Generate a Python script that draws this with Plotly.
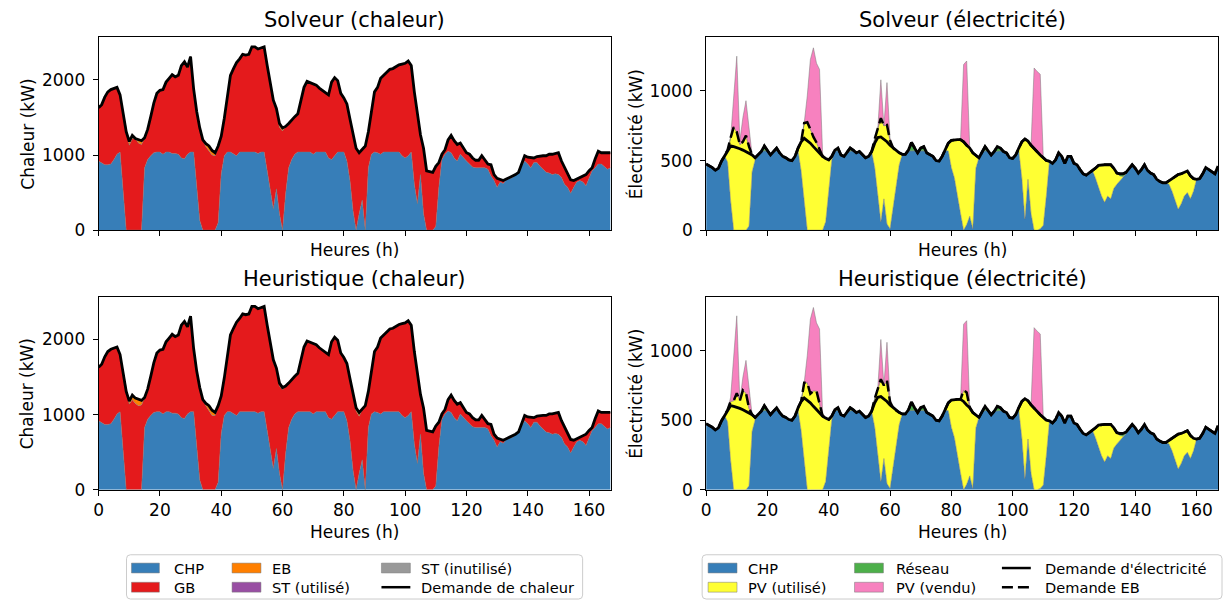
import plotly.graph_objects as go

W, H = 1225, 610
HOURS = list(range(168))

# ---------------- heat balance (kW) ----------------
HEAT_DEMAND = [
    1630, 1670, 1770, 1840, 1870, 1890, 1900, 1800, 1580, 1310,
    1180, 1260, 1220, 1200, 1190, 1230, 1340, 1510, 1690, 1820,
    1860, 1870, 1970, 2020, 2070, 2040, 2060, 2190, 2240, 2170,
    2310, 1880, 1580, 1360, 1200, 1150, 1120, 1060, 1030, 1120,
    1250, 1490, 1790, 2060, 2150, 2230, 2280, 2340, 2330, 2340,
    2440, 2440, 2410, 2430, 2440, 2190, 1930, 1730, 1620, 1420,
    1360, 1380, 1420, 1470, 1510, 1550, 1750, 1900, 1980, 1960,
    1950, 1930, 1890, 1860, 1820, 1800, 1970, 2030, 1990, 1820,
    1760, 1680, 1480, 1270, 1090, 1030, 1070, 1120, 1310, 1550,
    1840, 1900, 2020, 2060, 2100, 2140, 2150, 2180, 2200, 2210,
    2220, 2250, 2190, 1840, 1530, 1270, 1090, 790, 780, 770,
    850, 900, 1010, 1070, 1200, 1260, 1190, 1140, 1160, 1090,
    1030, 1010, 960, 930, 930, 990, 930, 880, 870, 740,
    690, 680, 660, 680, 700, 710, 740, 770, 880, 990,
    970, 960, 960, 980, 990, 990, 990, 1010, 1010, 1020,
    1030, 920, 830, 740, 670, 660, 680, 700, 710, 740,
    790, 830, 950, 1050, 1030, 1030, 1030, 1030,
]

CHP_HEAT = [
    920, 900, 870, 870, 880, 940, 1010, 1040, 530, 0,
    0, 0, 0, 0, 0, 830, 940, 990, 1030, 1040,
    1040, 1010, 1040, 1040, 1020, 1020, 1010, 960, 950, 1010,
    1040, 1040, 570, 130, 0, 0, 0, 0, 0, 100,
    750, 990, 1040, 1040, 1010, 990, 1040, 1040, 1040, 1040,
    1040, 1040, 1020, 1040, 1040, 790, 525, 285, 550, 220,
    0, 480, 830, 940, 1010, 1040, 1040, 1040, 1040, 1040,
    1010, 1040, 1040, 1040, 1040, 960, 940, 990, 1040, 1040,
    1040, 920, 660, 260, 0, 220, 400, 0, 830, 1010,
    1040, 1030, 1010, 1040, 1040, 1040, 1040, 1040, 1040, 990,
    960, 990, 1040, 610, 350, 740, 220, 0, 0, 0,
    50, 570, 940, 1010, 1050, 1030, 960, 920, 1010, 960,
    920, 880, 840, 830, 830, 830, 830, 810, 720, 660,
    570, 640, 620, 670, 690, 700, 735, 760, 850, 920,
    880, 830, 900, 900, 850, 810, 770, 760, 740, 750,
    740, 700, 610, 570, 490, 570, 640, 660, 640, 590,
    700, 790, 830, 880, 880, 850, 810, 830,
]

GB_SOLVER = [
    710, 770, 900, 970, 990, 950, 890, 760, 1050, 1310,
    1130, 1220, 1220, 1160, 1140, 400, 400, 520, 660, 780,
    820, 860, 930, 980, 1050, 1020, 1050, 1230, 1290, 1160,
    1270, 840, 1010, 1230, 1200, 1110, 1060, 1000, 990, 1020,
    500, 500, 750, 1020, 1140, 1240, 1240, 1300, 1290, 1300,
    1400, 1400, 1390, 1390, 1400, 1400, 1405, 1405, 1070, 1150,
    1320, 900, 590, 530, 500, 510, 710, 860, 940, 920,
    940, 890, 850, 820, 780, 840, 1030, 1040, 950, 780,
    720, 760, 820, 1010, 1090, 810, 670, 1120, 480, 540,
    800, 870, 1010, 1020, 1060, 1100, 1110, 1140, 1160, 1220,
    1260, 1260, 1150, 1230, 1180, 530, 870, 790, 780, 770,
    800, 330, 70, 60, 150, 230, 230, 220, 150, 130,
    110, 130, 120, 100, 100, 160, 100, 70, 150, 80,
    120, 40, 40, 10, 10, 10, 5, 10, 30, 70,
    90, 130, 60, 80, 140, 180, 220, 250, 270, 270,
    290, 220, 220, 170, 180, 90, 40, 40, 70, 150,
    90, 40, 120, 170, 150, 180, 220, 200,
]
# hours where the heuristic dispatch of the gas boiler differs
GB_HEUR_CHANGES = {10: 1140, 11: 1200, 12: 1150, 13: 1120, 14: 1130, 35: 1120,
                   37: 990, 59: 1160, 60: 1330, 84: 1050, 85: 760}

# electric boiler heat output, non-zero hours only
EB_HEAT_SOLVER = {10: 50, 11: 40, 13: 40, 14: 50, 35: 40, 36: 60, 37: 60,
                  38: 40, 57: 40, 59: 50, 60: 40}
EB_HEAT_HEUR = {10: 40, 11: 60, 12: 70, 13: 80, 14: 60, 35: 30, 36: 60, 37: 70,
                38: 40, 57: 40, 59: 40, 60: 30, 84: 40, 85: 50}

# solar thermal: nothing produced over this week
ST_USED = {}
ST_UNUSED = {}

# ---------------- electricity balance (kW) ----------------
ELEC_DEMAND = [
    475, 465, 450, 430, 445, 495, 535, 575, 605, 600,
    595, 585, 575, 565, 555, 540, 520, 540, 565, 605,
    575, 540, 565, 590, 555, 530, 520, 505, 500, 530,
    590, 635, 660, 645, 625, 600, 575, 555, 530, 515,
    505, 530, 575, 590, 540, 530, 565, 590, 575, 555,
    565, 540, 520, 530, 565, 625, 665, 670, 655, 635,
    610, 590, 570, 555, 545, 545, 575, 630, 590, 555,
    590, 600, 555, 540, 530, 500, 495, 530, 575, 625,
    645, 650, 650, 650, 635, 610, 590, 555, 535, 520,
    560, 600, 570, 540, 565, 600, 590, 565, 555, 520,
    515, 540, 590, 635, 655, 640, 610, 585, 560, 540,
    520, 500, 495, 480, 505, 555, 530, 480, 530, 530,
    480, 470, 435, 405, 395, 410, 430, 445, 465, 470,
    470, 470, 470, 445, 410, 405, 405, 415, 445, 470,
    445, 410, 435, 470, 430, 410, 400, 365, 350, 340,
    340, 355, 365, 380, 400, 405, 415, 425, 390, 370,
    365, 370, 405, 450, 435, 420, 405, 460,
]

CHP_ELEC = [
    475, 465, 450, 430, 445, 495, 535, 490, 210, 0,
    0, 0, 0, 0, 30, 420, 505, 540, 565, 570,
    570, 540, 565, 570, 555, 530, 520, 505, 500, 530,
    570, 425, 190, 0, 0, 0, 0, 0, 0, 60,
    310, 505, 570, 570, 540, 530, 565, 570, 570, 555,
    565, 540, 520, 530, 565, 450, 260, 60, 225, 45,
    10, 170, 330, 470, 545, 545, 570, 570, 570, 555,
    570, 570, 555, 540, 530, 500, 495, 530, 570, 570,
    450, 375, 235, 120, 0, 40, 100, 10, 445, 520,
    560, 570, 570, 540, 565, 570, 570, 565, 555, 520,
    515, 540, 570, 375, 80, 365, 120, 0, 0, 10,
    35, 250, 495, 480, 505, 555, 530, 480, 530, 530,
    480, 470, 435, 405, 395, 410, 430, 375, 305, 245,
    200, 245, 225, 300, 330, 355, 385, 405, 445, 470,
    445, 410, 435, 470, 430, 410, 400, 365, 350, 340,
    340, 330, 280, 210, 150, 190, 245, 270, 225, 280,
    365, 370, 405, 450, 435, 420, 405, 460,
]

GRID = {19: 35, 20: 5, 23: 20, 30: 20, 42: 5, 43: 20, 47: 20, 48: 5, 66: 5,
        67: 60, 68: 20, 70: 20, 71: 30, 78: 5, 91: 30, 95: 30, 96: 20,
        135: 15, 136: 20, 137: 10}

PV_USED_SOLVER = {
    7: 85, 8: 455, 9: 740, 10: 705, 11: 615, 12: 635, 13: 680, 14: 570, 15: 120, 16: 15,
    31: 210, 32: 580, 33: 775, 34: 725, 35: 670, 36: 630, 37: 575, 38: 530, 39: 455,
    40: 195, 41: 25,
    55: 205, 56: 470, 57: 745, 58: 525, 59: 710, 60: 635, 61: 420, 62: 240, 63: 85,
    79: 55, 80: 195, 81: 275, 82: 415, 83: 530, 84: 635, 85: 570, 86: 490, 87: 545, 88: 90,
    102: 20, 103: 260, 104: 575, 105: 275, 106: 490, 107: 585, 108: 560, 109: 530,
    110: 485, 111: 250,
    127: 70, 128: 160, 129: 225, 130: 270, 131: 225, 132: 245, 133: 145, 134: 80, 135: 35,
    151: 25, 152: 85, 153: 170, 154: 250, 155: 215, 156: 170, 157: 155, 158: 165, 159: 90,
}
PV_SOLD_SOLVER = {9: 190, 10: 545, 11: 25, 12: 175, 13: 250, 14: 110,
                  33: 190, 34: 500, 35: 640, 36: 570, 37: 580, 38: 20,
                  57: 275, 59: 305, 60: 15, 84: 555, 85: 605,
                  107: 580, 108: 580, 109: 580}
EB_ELEC_SOLVER = {8: 60, 9: 140, 10: 110, 11: 30, 12: 60, 13: 115, 14: 45,
                  32: 110, 33: 130, 34: 100, 35: 70, 36: 55, 37: 20,
                  55: 30, 56: 65, 57: 135, 58: 95, 59: 120, 60: 35}

# heuristic: different electric boiler schedule, hence a different PV split
EB_ELEC_HEUR = {8: 30, 9: 40, 10: 100, 11: 55, 12: 140, 13: 130, 14: 30,
                32: 110, 33: 125, 34: 65, 35: 110, 36: 135, 37: 65,
                55: 30, 56: 65, 57: 125, 58: 95, 59: 150, 60: 20, 84: 80, 85: 90}
PV_USED_HEUR_CHANGES = {8: 425, 9: 640, 10: 695, 11: 640, 12: 715, 13: 695, 14: 555,
                        33: 770, 34: 690, 35: 710, 36: 710, 37: 620,
                        57: 735, 59: 740, 60: 620, 84: 715, 85: 660}
PV_SOLD_HEUR_CHANGES = {8: 30, 9: 290, 10: 555, 11: 0, 12: 95, 13: 235, 14: 125,
                        33: 195, 34: 535, 35: 600, 36: 490, 37: 535,
                        57: 285, 59: 275, 60: 30, 84: 475, 85: 515}

X_TICKS = [0, 20, 40, 60, 80, 100, 120, 140, 160]
HEAT_TICKS = [0, 1000, 2000]
ELEC_TICKS = [0, 500, 1000]


def full(sparse):
    """Expand an {hour: value} mapping into a full hourly series."""
    return [sparse.get(h, 0) for h in HOURS]


def changed(base, changes):
    out = list(base)
    for h, v in changes.items():
        out[h] = v
    return out


COL = {
    "CHP": "#377eb8", "GB": "#e41a1c", "EB": "#ff7f00", "STU": "#984ea3",
    "STN": "#999999", "PVU": "#ffff33", "GRID": "#4daf4a", "PVS": "#f781bf",
}
FONT = "DejaVu Sans"
EDGE = "rgba(120,120,120,0.85)"
DASH = "11px,5px"

fig = go.Figure()


def area(y, color, group, ax):
    fig.add_trace(go.Scatter(
        x=HOURS, y=y, mode="lines", stackgroup=group, fillcolor=color,
        line=dict(color=EDGE, width=0.6), xaxis="x" + ax, yaxis="y" + ax,
        showlegend=False, hoverinfo="skip"))


def curve(y, ax, dash=None, width=2.8):
    fig.add_trace(go.Scatter(
        x=HOURS, y=y, mode="lines", xaxis="x" + ax, yaxis="y" + ax,
        line=dict(color="black", width=width, dash=dash),
        showlegend=False, hoverinfo="skip"))


def heat_panel(ax, gb, eb):
    g = "heat" + ax
    area(CHP_HEAT, COL["CHP"], g, ax)
    area(gb, COL["GB"], g, ax)
    area(full(eb), COL["EB"], g, ax)
    area(full(ST_USED), COL["STU"], g, ax)
    area(full(ST_UNUSED), COL["STN"], g, ax)
    curve(HEAT_DEMAND, ax)


def elec_panel(ax, pv_used, pv_sold, eb):
    g = "elec" + ax
    area(CHP_ELEC, COL["CHP"], g, ax)
    area(pv_used, COL["PVU"], g, ax)
    area(full(GRID), COL["GRID"], g, ax)
    area(pv_sold, COL["PVS"], g, ax)
    eb_full = full(eb)
    curve([d + e for d, e in zip(ELEC_DEMAND, eb_full)], ax, dash=DASH, width=2.5)
    curve(ELEC_DEMAND, ax)


heat_panel("", GB_SOLVER, EB_HEAT_SOLVER)
elec_panel("2", full(PV_USED_SOLVER), full(PV_SOLD_SOLVER), EB_ELEC_SOLVER)
heat_panel("3", changed(GB_SOLVER, GB_HEUR_CHANGES), EB_HEAT_HEUR)
elec_panel("4", changed(full(PV_USED_SOLVER), PV_USED_HEUR_CHANGES),
           changed(full(PV_SOLD_SOLVER), PV_SOLD_HEUR_CHANGES), EB_ELEC_HEUR)


def px(x):
    return x / W


def py(y):
    return 1 - y / H


LX = [px(94), px(608)]
RX = [px(704), px(1218)]
TY = [py(234), py(38)]
BY = [py(498), py(302)]

axis_common = dict(
    showline=True, mirror=True, linecolor="black", linewidth=1,
    ticks="outside", ticklen=5, tickwidth=1, tickcolor="black",
    showgrid=False, zeroline=False,
    tickfont=dict(family=FONT, size=17, color="black"),
)


def xaxis(domain, anchor, labels):
    return dict(axis_common, domain=domain, anchor=anchor, range=[0, 167],
                tickvals=X_TICKS, showticklabels=labels)


def yaxis(domain, anchor, top, ticks):
    return dict(axis_common, domain=domain, anchor=anchor, range=[0, top],
                tickvals=ticks, ticklabelstandoff=4)


fig.update_layout(
    width=W, height=H, margin=dict(l=0, r=0, t=0, b=0),
    paper_bgcolor="white", plot_bgcolor="white", showlegend=False,
    xaxis=xaxis(LX, "y", False), yaxis=yaxis(TY, "x", 2565, HEAT_TICKS),
    xaxis2=xaxis(RX, "y2", False), yaxis2=yaxis(TY, "x2", 1385, ELEC_TICKS),
    xaxis3=xaxis(LX, "y3", True), yaxis3=yaxis(BY, "x3", 2565, HEAT_TICKS),
    xaxis4=xaxis(RX, "y4", True), yaxis4=yaxis(BY, "x4", 1385, ELEC_TICKS),
)

annotations = []


def text(x, y, s, size, anchor="center", angle=0):
    annotations.append(dict(
        x=px(x), y=py(y), xref="paper", yref="paper", text=s, showarrow=False,
        xanchor=anchor, yanchor="middle", textangle=angle,
        font=dict(family=FONT, size=size, color="black")))


# panel titles
text(351, 20, "Solveur (chaleur)", 21)
text(961, 20, "Solveur (électricité)", 21)
text(351, 284, "Heuristique (chaleur)", 21)
text(961, 284, "Heuristique (électricité)", 21)
# axis labels
for yc in (136, 400):
    text(23, yc, "Chaleur (kW)", 17, angle=-90)
    text(633, yc, "Électricité (kW)", 17, angle=-90)
for yc in (254, 541):
    text(351, yc, "Heures (h)", 17)
    text(961, yc, "Heures (h)", 17)

shapes = []


def rounded_box(x0, y0, x1, y1, r=4):
    rx, ry = r / W, r / H
    a, b, c, d = px(x0), py(y0), px(x1), py(y1)
    path = (f"M {a + rx},{b} L {c - rx},{b} Q {c},{b} {c},{b - ry} "
            f"L {c},{d + ry} Q {c},{d} {c - rx},{d} L {a + rx},{d} "
            f"Q {a},{d} {a},{d + ry} L {a},{b - ry} Q {a},{b} {a + rx},{b} Z")
    shapes.append(dict(type="path", path=path, xref="paper", yref="paper",
                       line=dict(color="#cccccc", width=1),
                       fillcolor="rgba(255,255,255,0.8)"))


def patch(x0, x1, yc, color):
    shapes.append(dict(type="rect", xref="paper", yref="paper",
                       x0=px(x0), x1=px(x1), y0=py(yc + 5), y1=py(yc - 5),
                       fillcolor=color, line=dict(color=EDGE, width=0.6)))


def line_key(x0, x1, yc, dash=None):
    shapes.append(dict(type="line", xref="paper", yref="paper",
                       x0=px(x0), x1=px(x1), y0=py(yc), y1=py(yc),
                       line=dict(color="black", width=2.5, dash=dash)))


ROW1, ROW2 = 577.5, 597
LEG = 14.6

# heat legend
rounded_box(122, 564, 580, 609)
patch(127, 155, ROW1, COL["CHP"]); text(168, ROW1, "CHP", LEG, "left")
patch(127, 155, ROW2, COL["GB"]); text(168, ROW2, "GB", LEG, "left")
patch(228, 257, ROW1, COL["EB"]); text(266, ROW1, "EB", LEG, "left")
patch(228, 257, ROW2, COL["STU"]); text(266, ROW2, "ST (utilisé)", LEG, "left")
patch(378, 407, ROW1, COL["STN"]); text(416, ROW1, "ST (inutilisé)", LEG, "left")
line_key(378, 407, ROW2); text(416, ROW2, "Demande de chaleur", LEG, "left")

# electricity legend
rounded_box(700, 564, 1222, 609)
patch(706, 735, ROW1, COL["CHP"]); text(744, ROW1, "CHP", LEG, "left")
patch(706, 735, ROW2, COL["PVU"]); text(744, ROW2, "PV (utilisé)", LEG, "left")
patch(853, 882, ROW1, COL["GRID"]); text(893, ROW1, "Réseau", LEG, "left")
patch(853, 882, ROW2, COL["PVS"]); text(893, ROW2, "PV (vendu)", LEG, "left")
line_key(1001, 1030, ROW1); text(1042, ROW1, "Demande d'électricité", LEG, "left")
line_key(1001, 1030, ROW2, dash=DASH); text(1042, ROW2, "Demande EB", LEG, "left")

fig.update_layout(annotations=annotations, shapes=shapes)
fig.write_html("out.html", config={"displayModeBar": False})
